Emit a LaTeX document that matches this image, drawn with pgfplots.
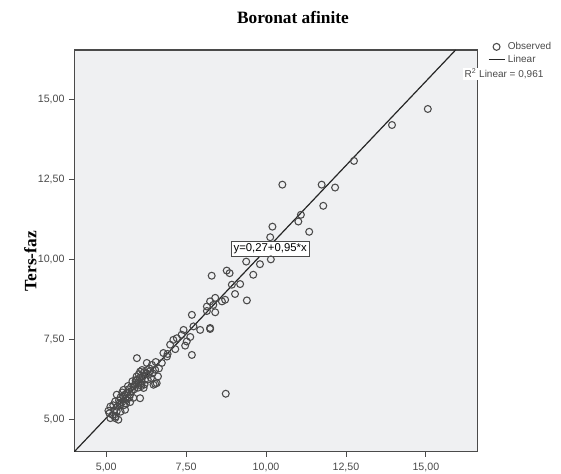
\documentclass[border=0pt]{standalone}
\usepackage{pgfplots}
\pgfplotsset{compat=1.18}
\usepackage{fontspec}
\setmainfont{Liberation Serif}
\setsansfont{Liberation Sans}
\usetikzlibrary{calc}
\definecolor{bgpanel}{HTML}{EFF0F2}
\definecolor{ptgray}{HTML}{4A4A4A}
\definecolor{axgray}{HTML}{4A4A4A}

\begin{document}
\begin{tikzpicture}
  \begin{axis}[
      name=ax,
      scale only axis,
      width=302.25pt, height=301.5pt,
      xmin=4, xmax=16.6, ymin=4, ymax=16.53,
      xtick={5,7.5,10,12.5,15}, ytick={5,7.5,10,12.5,15},
      tick pos=left, tick align=outside,
      major tick length=3.75pt,
      axis background/.style={fill=bgpanel},
      axis line style={draw=axgray, line width=0.8pt},
      every tick/.style={draw=axgray, line width=0.6pt},
      ticklabel style={font=\sffamily\fontsize{8}{9}\selectfont, text=axgray},
      xticklabel style={yshift=-1pt},
      /pgf/number format/.cd, fixed, fixed zerofill, precision=2, use comma, assume math mode=true,
      /pgfplots/.cd,
      legend image code/.code={\draw[mark repeat=2,mark phase=2,#1] plot coordinates {(0pt,0pt) (6pt,0pt) (12pt,0pt)};},
      legend style={at={(1,1)}, anchor=north west, xshift=8pt, yshift=8pt,
        draw=none, fill=none, inner sep=0pt, row sep=-1.5pt,
        font=\sffamily\fontsize{7.5}{8}\selectfont, text=axgray},
      legend cell align=left,
    ]

    % observed values
    \addplot[only marks, mark=o, mark size=2.6pt, draw=ptgray, line width=0.8pt]
    coordinates {
        (15.06,14.69) (13.94,14.19) (12.75,13.07) (11.74,12.33) (12.16,12.24)
        (11.79,11.67) (10.51,12.33) (11.09,11.39) (11.01,11.18) (11.35,10.86)
        (10.20,11.02) (10.13,10.69) (10.15,10.00) (9.81,9.85) (9.60,9.52)
        (9.38,9.93) (8.77,9.65) (8.86,9.57) (8.30,9.49) (9.40,8.72)
        (9.19,9.23) (9.03,8.92) (8.93,9.21) (8.41,8.80) (8.25,8.69)
        (8.15,8.53) (8.62,8.69) (8.41,8.35) (8.25,7.86) (8.35,8.58)
        (8.72,8.74) (8.15,8.39)
        (7.68,8.27) (7.73,7.91) (7.94,7.80) (8.25,7.83) (7.42,7.80)
        (7.36,7.65) (7.21,7.54) (7.10,7.49) (7.63,7.58) (7.52,7.44)
        (7.00,7.34) (7.16,7.20) (7.47,7.31) (7.68,7.02) (6.79,7.08)
        (6.90,6.97) (8.74,5.81) (5.96,6.92) (6.53,6.12) (6.92,7.05)
        (6.74,6.77) (6.43,6.71) (6.27,6.77) (6.06,6.50) (6.53,6.56)
        (6.58,6.14) (6.48,6.09) (6.22,6.25) (5.96,6.25) (5.85,6.04)
        (6.17,5.99) (6.32,6.40) (5.54,5.93) (5.33,5.78) (5.65,5.83)
        (6.06,5.67) (5.65,5.62) (5.28,5.57) (5.44,5.47) (5.13,5.41)
        (5.33,5.26) (5.59,5.31) (5.13,5.05) (5.38,5.00) (5.07,5.28)
        (5.28,5.05) (5.85,5.68) (5.75,5.78) (5.54,5.72)
        (5.90,6.10) (6.00,6.15) (6.05,6.30) (6.10,6.20) (6.15,6.35)
        (6.20,6.10) (6.25,6.45) (5.95,6.35) (6.00,6.00) (6.10,6.05)
        (5.88,5.95) (6.30,6.25) (6.40,6.30) (6.12,6.55) (6.35,6.60)
        (5.80,5.90) (5.70,5.95) (5.60,5.65) (5.50,5.55) (5.45,5.70)
        (5.40,5.60) (5.55,5.45) (5.35,5.40) (5.25,5.30) (5.50,5.85)
        (5.62,5.50) (5.20,5.15) (5.45,5.25) (5.75,5.55) (5.68,6.05)
        (5.82,6.20) (6.45,6.45) (6.55,6.80) (6.65,6.60) (5.10,5.20)
        (5.30,5.10) (6.02,6.42) (6.18,6.48) (6.08,6.12) (5.92,6.22)
        (6.28,6.55) (5.78,6.02) (5.58,5.78) (5.42,5.52) (5.22,5.45)
        (6.38,6.52) (6.62,6.35) (5.72,5.70)
      };
    \addlegendentry{Observed}

    % fitted line
    \addplot[draw=black!85, line width=0.9pt] coordinates {(4.0,4.0) (15.93,16.53)};
    \addlegendentry{Linear}

    \node[draw=axgray, fill=white, line width=0.6pt, inner sep=2pt,
      font=\sffamily\fontsize{8.5}{10}\selectfont]
      at (axis cs:10.13,10.33) {y=0,27+0,95*x};
  \end{axis}

  \node[anchor=west, fill=white, inner sep=1pt, font=\sffamily\fontsize{7.5}{8}\selectfont, text=axgray]
    at ($(ax.north east)+(-10.5pt,-18pt)$) {R\textsuperscript{2} Linear = 0,961};
  \node[font=\bfseries\fontsize{13}{15}\selectfont]
    at ($(ax.north west)!0.543!(ax.north east)+(0,24pt)$) {Boronat afinite};
  \node[rotate=90, font=\bfseries\fontsize{13}{15}\selectfont]
    at ($(ax.south west)+(-33pt,143pt)$) {Ters-faz};

  \pgfresetboundingbox
  \path[use as bounding box] ($(ax.south west)+(-55.7pt,-16pt)$) rectangle ($(ax.north east)+(63pt,37.5pt)$);
\end{tikzpicture}
\end{document}
